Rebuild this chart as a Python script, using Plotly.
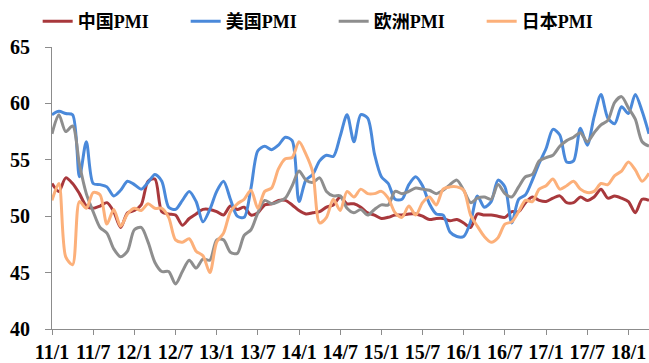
import plotly.graph_objects as go

# monthly PMI, 2011/1 .. 2018/4
china_pmi = [
    52.9, 52.2, 53.4, 52.9, 52.0, 50.9, 50.7, 50.9, 51.2, 50.4, 49.0, 50.3,
    50.5, 51.0, 53.1, 53.3, 50.4, 50.2, 50.1, 49.2, 49.8, 50.2, 50.6, 50.6,
    50.4, 50.1, 50.9, 50.6, 50.8, 50.1, 50.3, 51.0, 51.1, 51.4, 51.4, 51.0,
    50.5, 50.2, 50.3, 50.4, 50.8, 51.0, 51.7, 51.1, 51.1, 50.8, 50.3, 50.1,
    49.8, 49.9, 50.1, 50.1, 50.2, 50.2, 50.0, 49.7, 49.8, 49.8, 49.6, 49.7,
    49.4, 49.0, 50.2, 50.1, 50.1, 50.0, 49.9, 50.4, 50.4, 51.2, 51.7, 51.4,
    51.3, 51.6, 51.8, 51.2, 51.2, 51.7, 51.4, 51.7, 52.4, 51.6, 51.8, 51.6,
    51.3, 50.3, 51.5, 51.4,
]
us_pmi = [
    59.0, 59.3, 59.1, 59.0, 53.5, 56.6, 52.9, 52.8, 52.6, 51.8, 52.3, 53.1,
    52.8, 52.4, 53.0, 53.7, 53.1, 50.8, 50.6, 51.4, 52.2, 51.3, 49.5, 50.6,
    52.2, 53.1, 51.5, 50.0, 49.9, 52.5, 55.8, 56.2, 55.9, 56.3, 57.0, 56.7,
    51.3, 53.2, 53.7, 54.9, 55.4, 55.3, 57.1, 59.0, 56.6, 59.0, 58.7, 55.5,
    53.5, 52.9, 51.5, 51.5, 52.8, 53.5, 52.7, 51.1, 50.2, 50.1, 48.6, 48.2,
    48.2, 49.5, 51.8, 50.8, 51.3, 53.2, 52.6, 49.4, 51.5, 51.9, 53.2, 54.7,
    56.0, 57.7, 57.2, 54.8, 54.9, 57.8, 56.3, 58.8, 60.8, 58.7, 58.2, 59.7,
    59.1, 60.8, 59.3, 57.3,
]
euro_pmi = [
    57.3, 59.0, 57.5, 58.0, 54.6, 52.0, 50.4, 49.0, 48.5, 47.1, 46.4, 46.9,
    48.8, 49.0, 47.7, 45.9, 45.1, 45.1, 44.0, 45.1, 46.1, 45.4, 46.2, 46.1,
    47.9, 47.9, 46.8, 46.7, 48.3, 48.8, 50.3, 51.4, 51.1, 51.3, 51.6, 52.7,
    54.0, 53.2, 53.0, 53.4, 52.2, 51.8, 51.8, 50.7, 50.3, 50.6, 50.1, 50.6,
    51.0, 51.0, 52.2, 52.0, 52.2, 52.5, 52.4, 52.3, 52.0, 52.3, 52.8, 53.2,
    52.3, 51.2, 51.6, 51.7, 51.5, 52.8, 52.0, 51.7, 52.6, 53.5, 53.7, 54.9,
    55.2, 55.4, 56.2, 56.7, 57.0, 57.4, 56.6, 57.4, 58.1, 58.5, 60.1, 60.6,
    59.6, 58.6, 56.6, 56.2,
]
japan_pmi = [
    51.4, 52.9, 46.4, 45.7, 51.3, 50.7, 52.1, 51.9, 49.3, 50.6, 49.1, 50.2,
    50.7, 50.5, 51.1, 50.7, 50.7, 49.9, 47.9, 47.7, 48.0, 46.9, 46.5, 45.0,
    47.7, 48.5, 50.4, 51.1, 51.5, 52.3, 50.7, 52.2, 52.5, 54.2, 55.1, 55.2,
    56.6, 55.5, 53.9, 49.4, 49.9, 51.5, 50.5, 52.2, 51.7, 52.4, 52.0, 52.0,
    52.2, 51.6, 50.3, 49.9, 50.9, 50.1, 51.2, 51.7, 51.0, 52.4, 52.6, 52.6,
    52.3, 50.1, 49.1, 48.2, 47.7, 48.1, 49.3, 49.5, 50.4, 51.4, 51.3, 52.4,
    52.7, 53.3, 52.4, 52.7, 53.1, 52.4, 52.1, 52.2, 52.9, 52.8, 53.6, 54.0,
    54.8, 54.1, 53.1, 53.8,
]
tick_labels = ["11/1", "11/7", "12/1", "12/7", "13/1", "13/7", "14/1", "14/7",
               "15/1", "15/7", "16/1", "16/7", "17/1", "17/7", "18/1"]

months = list(range(len(china_pmi)))
FONT = "Liberation Serif, Times New Roman, Noto Sans CJK SC, serif"

series = [
    ("中国PMI", china_pmi, "#A8383C"),
    ("美国PMI", us_pmi, "#4A89DA"),
    ("欧洲PMI", euro_pmi, "#8E8E8E"),
    ("日本PMI", japan_pmi, "#FCB07A"),
]

fig = go.Figure()
for name, values, color in series:
    fig.add_trace(go.Scatter(
        x=months, y=values, name=name, mode="lines",
        line=dict(color=color, width=3, shape="spline", smoothing=0.8),
    ))

fig.update_layout(
    width=649, height=363,
    margin=dict(l=52, r=0, t=47, b=34, autoexpand=False),
    paper_bgcolor="white", plot_bgcolor="white",
    font=dict(family=FONT, size=19, color="black", weight="bold"),
    legend=dict(
        orientation="h", x=-0.024, xanchor="left", y=1.09, yanchor="middle",
        entrywidth=103, font=dict(size=18, weight="bold"),
        bgcolor="rgba(0,0,0,0)", tracegroupgap=0,
    ),
    showlegend=True,
)
fig.update_xaxes(
    range=[0, 87], tickvals=months[::6][:len(tick_labels)], ticktext=tick_labels,
    showline=True, linecolor="#8c8c8c", linewidth=1,
    ticks="outside", ticklen=5, tickcolor="#8c8c8c",
    showgrid=False, zeroline=False, automargin=False,
    tickfont=dict(family=FONT, size=20, weight="bold"),
)
fig.update_yaxes(
    range=[40, 65], dtick=5,
    showline=True, linecolor="#8c8c8c", linewidth=1,
    ticks="outside", ticklen=6, tickcolor="#8c8c8c",
    showgrid=False, zeroline=False, ticklabelstandoff=11, automargin=False,
    tickfont=dict(family=FONT, size=20, weight="bold"),
)

# the page body has a default 8px margin; drop it so the figure sits at 0,0
fig.write_html("out.html", config={"displayModeBar": False},
               post_script="document.body.style.margin='0';")
